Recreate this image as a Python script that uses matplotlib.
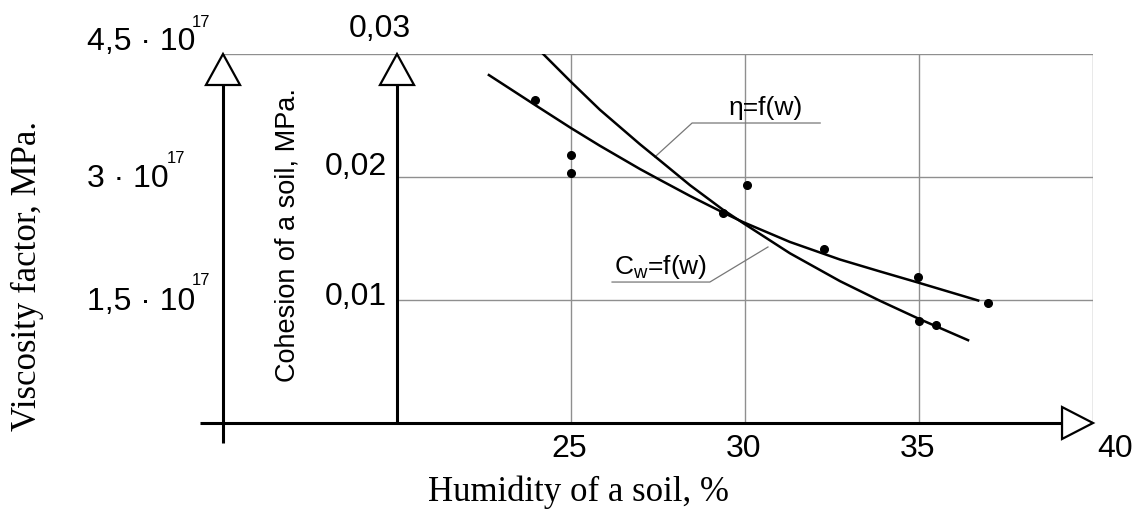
import matplotlib
matplotlib.use("Agg")
import matplotlib.pyplot as plt
from matplotlib.patches import Polygon

# humidity grid / ticks
x_ticks = [25, 30, 35, 40]
x_tick_labels = ["25", "30", "35", "40"]
c_grid = [0.01, 0.02, 0.03]
c_tick_labels = ["0,01", "0,02", "0,03"]
eta_tick_labels = ["1,5 \u00b7 10", "3 \u00b7 10", "4,5 \u00b7 10"]
eta_tick_exp = ["17", "17", "17"]

# eta = f(w) curve, viscosity in 1e17 MPa
eta_curve_w = [24.20, 25.00, 25.83, 26.98, 27.56, 28.42, 29.37, 29.94, 31.29,
               32.73, 33.88, 35.00, 36.41]
eta_curve_v = [4.50, 4.16, 3.82, 3.40, 3.20, 2.90, 2.60, 2.44, 2.07,
               1.73, 1.49, 1.27, 1.01]
eta_pts_w = [25.0, 25.0, 30.06, 35.0, 35.49]
eta_pts_v = [3.27, 3.05, 2.90, 1.24, 1.20]

# C_w = f(w) curve, cohesion in MPa
cw_curve_w = [22.64, 23.97, 25.00, 25.83, 26.98, 27.56, 28.42, 29.37, 29.94,
              31.29, 32.73, 33.88, 34.97, 36.70]
cw_curve_c = [0.02829, 0.02585, 0.02398, 0.02254, 0.02065, 0.01976, 0.01846,
              0.01711, 0.01634, 0.01472, 0.01329, 0.01232, 0.01142, 0.00996]
cw_pts_w = [23.97, 29.37, 32.27, 34.97, 36.98]
cw_pts_c = [0.02626, 0.01707, 0.01415, 0.01187, 0.00976]

plt.rcParams["mathtext.fontset"] = "custom"
plt.rcParams["mathtext.rm"] = "Liberation Sans"
plt.rcParams["mathtext.it"] = "Liberation Sans:italic"

W, H = 1140, 511
fig = plt.figure(figsize=(W / 100, H / 100), dpi=100)
ax = fig.add_axes([223 / W, 88 / H, 870 / W, 369 / H])
ax.set_xlim(15, 40)
ax.set_ylim(0, 0.03)
ax.axis("off")
ax_eta = ax.twinx()
ax_eta.set_ylim(0, 4.5)
ax_eta.axis("off")


def fpos(x, y):
    return x / W, 1 - y / H


sans = "Liberation Sans"
serif = "Liberation Serif"
grid_col = "#8f8f8f"

# grid
ax.vlines(x_ticks, 0, 0.03, color=grid_col, lw=1.0)
ax.hlines(c_grid[:-1], 20, 40, color=grid_col, lw=1.0)
ax.hlines(c_grid[-1], 15, 40, color=grid_col, lw=1.0)

# axes with open arrow heads
lw_ax = 2.2
ax.plot([14.34, 39.11], [0, 0], color="black", lw=lw_ax, clip_on=False,
        solid_capstyle="butt")
ax.add_patch(Polygon([[39.11, 0.0013], [40, 0], [39.11, -0.0013]], closed=True,
                     fc="white", ec="black", lw=1.6, clip_on=False, zorder=3))
for x0, y0 in [(15, -0.00163), (20, 0)]:
    ax.plot([x0, x0], [y0, 0.02748], color="black", lw=lw_ax, clip_on=False,
            solid_capstyle="butt")
    ax.add_patch(Polygon([[x0 - 0.49, 0.02748], [x0, 0.03], [x0 + 0.49, 0.02748]],
                         closed=True, fc="white", ec="black", lw=1.6,
                         clip_on=False, zorder=3))

# curves and measured points
ax_eta.plot(eta_curve_w, eta_curve_v, color="black", lw=1.8,
            solid_joinstyle="round")
ax_eta.plot(eta_pts_w, eta_pts_v, "o", color="black", ms=5.5)
ax.plot(cw_curve_w, cw_curve_c, color="black", lw=1.8, solid_joinstyle="round")
ax.plot(cw_pts_w, cw_pts_c, "o", color="black", ms=5.5)

# leaders and curve labels
lead_col = "#777777"
ax.plot([27.41, 28.48, 32.16], [0.02163, 0.02439, 0.02439], color=lead_col, lw=0.9)
ax.text(29.54, 0.02504, "\u03b7=f(w)", fontsize=19, family=sans, ha="left",
        va="baseline")
ax.plot([30.66, 28.99, 26.18], [0.01431, 0.01146, 0.01146], color=lead_col, lw=0.9)
ax.text(26.24, 0.01211, r"C$_\mathregular{w}$=f(w)", fontsize=19, family=sans,
        ha="left", va="baseline")

# x tick labels
for xv, lab in zip(x_ticks[:-1], x_tick_labels[:-1]):
    ax.text(xv - 0.05, -0.00276, lab, fontsize=23, family=sans, ha="center",
            va="baseline", clip_on=False)
ax.text(40.11, -0.00276, x_tick_labels[-1], fontsize=23, family=sans, ha="left",
        va="baseline", clip_on=False)

# cohesion tick labels
fig.text(*fpos(387, 305), c_tick_labels[0], fontsize=23, family=sans, ha="right",
         va="baseline")
fig.text(*fpos(387, 175), c_tick_labels[1], fontsize=23, family=sans, ha="right",
         va="baseline")
fig.text(*fpos(380, 37), c_tick_labels[2], fontsize=23, family=sans, ha="center",
         va="baseline")

# viscosity tick labels
for (yb, xs, ys), lab, ex in zip([(310, 192, 285), (187, 167, 163), (50, 192, 27)],
                                  eta_tick_labels, eta_tick_exp):
    fig.text(*fpos(87, yb), lab, fontsize=23, family=sans, ha="left", va="baseline")
    fig.text(*fpos(xs, ys), ex, fontsize=12, family=sans, ha="left", va="baseline")

# axis titles
fig.text(*fpos(27, 276), "Viscosity factor, MPa.", fontsize=25, family=serif,
         rotation=90, ha="center", va="center")
fig.text(*fpos(288, 235), "Cohesion of a soil, MPa.", fontsize=19.5, family=sans,
         rotation=90, ha="center", va="center")
fig.text(*fpos(578, 492), "Humidity of a soil, %", fontsize=25, family=serif,
         ha="center", va="center")

fig.savefig("out.png", dpi=100, facecolor="white")
